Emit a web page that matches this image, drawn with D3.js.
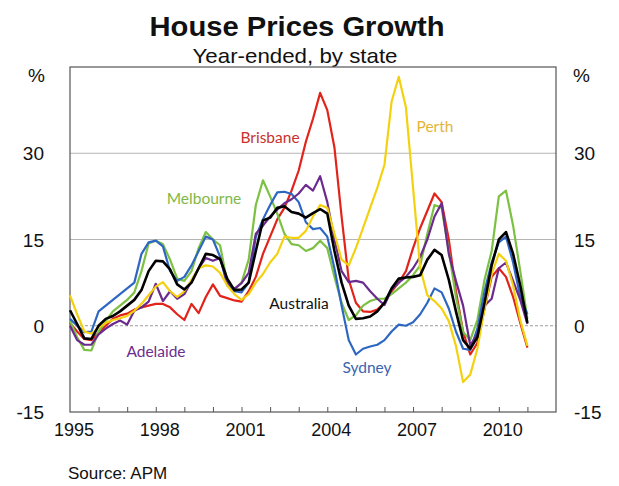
<!DOCTYPE html>
<html>
<head>
<meta charset="utf-8">
<script src="https://cdn.jsdelivr.net/npm/d3@7"></script>
<style>
  html, body { margin: 0; padding: 0; background: #fff; }
  svg { display: block; }
  text { font-family: "Liberation Sans", Arial, sans-serif; }
  .lbl { font-family: Lato, "Open Sans", sans-serif; }
</style>
</head>
<body>
<svg id="chart" width="619" height="486"></svg>
<script>
// ---- Data (quarterly, from March 1995) ----
const title = "House Prices Growth";
const subtitle = "Year-ended, by state";
const source = "Source: APM";
const startYear = 1995;
const perYear = 4;
const yTicks = [-15, 0, 15, 30];
const xTickLabels = [1995, 1998, 2001, 2004, 2007, 2010];
const xMinorTicks = [1996,1997,1998,1999,2000,2001,2002,2003,2004,2005,2006,2007,2008,2009,2010,2011];

const sydney = [1.2,0,-1.1,-1,2.5,3.5,4.5,5.5,6.5,7.5,12.5,14.5,14.8,13.8,9.5,7.8,8.5,10.5,13,15.5,15,12,7,6,5.8,7.5,15.5,18.5,21,23.2,23.3,22.9,21.5,18,16.8,17,15.5,10,3.5,-2.5,-5,-4,-3.6,-3.3,-2.5,-1,0.2,0,0.6,2,4,6.5,5.8,3,-1,-4,-4.2,-0.5,6,11,14.5,15.5,11,5,2];
const melbourne = [0.9,-2,-4.2,-4.3,-1,0.8,2.5,3.5,4.5,5.8,9.5,14.3,14.8,14.2,11.5,8.2,7.8,9.5,13.5,16.3,15,14,7.5,6.3,7.5,11.5,21,25.3,22.5,19.5,16,14.2,14,13,13.5,14.8,13.5,8.5,4,1,1.8,3.5,4.3,4.7,4.7,5.5,6.5,7.5,8.8,10.5,16,21,20.5,13,5,-1.1,-2.5,1,8,13,22.5,23.5,17.4,9.5,1.2];
const brisbane = [0.5,-1,-2.3,-2.5,-1.2,0,1.2,1.8,2.1,2.8,3.2,3.5,3.8,3.8,3.2,2,1,3.8,2.2,5,7.2,5.2,4.8,4.4,4.2,6,8.5,12.5,15.5,18.5,20.5,23.5,27,32,36,40.5,37.5,31,19,8,4,2.5,2.4,2.8,4,6,7.5,9.5,13.5,17,20,23,21.5,15,6,-1,-5,-3,3,8.5,10,8.5,5,0.5,-3.8];
const adelaide = [0,-2.5,-3.3,-3.3,-1.5,-0.5,0.3,0.9,0.2,2.6,3.2,4.2,7.3,4.3,6,4.7,5.5,7.8,10,11.8,11.3,11.8,7.5,6.4,7.4,9.2,16,17.4,19,20.2,21.3,22,23,24.5,23.5,26,21.5,15,9.5,7.6,7.8,7.5,6,4.7,3.6,6.3,7.5,8.5,10,12,15,19,21.3,12.5,7.8,3.5,-3.4,-1.5,3.5,4.7,10,11,7.8,4.5,0.3];
const perth = [5.3,2,-1,-1.4,-0.3,0.5,1,1.3,1.7,2.6,3.8,5.3,6.8,7.6,6,5,6,8,10,10.5,10.3,9.2,7,5.5,4.5,5.5,7.5,9,11,12.5,15.5,15.3,15.3,16.5,19,21,20.5,16,11.5,10.5,13.5,17,20.5,24,28,39,43.3,38,24,10,5.3,4.3,3,0.8,-3.5,-9.8,-8.5,-4,3,9,12.5,11.3,7,1,-3.5];
const australia = [2.7,0.3,-2.2,-2.3,0,1.2,1.7,2.5,3.5,4.5,6.2,9.5,11.3,11.2,9.8,7.2,6.3,7.5,10,12.5,12.3,11.6,8.2,6.2,6.3,7.5,13,18.3,18.8,20.5,20.8,19.8,19.5,18.8,19.6,20.3,19.5,13,7.5,3.5,1.2,1.3,1.6,2.5,4,6.5,8.2,8.4,8.5,8.8,11.5,13.2,12.3,8,2.5,-2.5,-4,-2,4,10.5,15,16.3,12.5,7,0.5];

const seriesNames = ["Brisbane","Melbourne","Sydney","Adelaide","Perth","Australia"];
const seriesValues = [brisbane, melbourne, sydney, adelaide, perth, australia];
const seriesColors = ["#e2231a","#7cc142","#2e67c2","#6a2a8e","#f4d10f","#000000"];
const seriesWidths = [2.2,2.2,2.2,2.2,2.2,2.6];

const labels = [
  {text:"Brisbane", color:"#c8322d"},
  {text:"Melbourne", color:"#7fb847"},
  {text:"Perth", color:"#e2b53a"},
  {text:"Australia", color:"#111111"},
  {text:"Adelaide", color:"#6b2d8e"},
  {text:"Sydney", color:"#3b63ae"}
];
const labelPos = [[270,143],[204,204],[435,132],[299,309],[156,357],[367,373]];

// ---- Layout ----
const svg = d3.select("#chart");
const m = {left:70, right:556, top:67, bottom:412};
const x = d3.scaleLinear().domain([1995, 2012]).range([m.left, m.right]);
const y = d3.scaleLinear().domain([-15, 45]).range([m.bottom, m.top]);

// titles
svg.append("text").attr("x", 297).attr("y", 36).attr("text-anchor","middle")
  .attr("font-size", 28).attr("font-weight","bold").attr("fill","#111")
  .attr("textLength", 295).attr("lengthAdjust","spacingAndGlyphs").text(title);
svg.append("text").attr("x", 295).attr("y", 63).attr("text-anchor","middle")
  .attr("font-size", 21).attr("fill","#111")
  .attr("textLength", 205).attr("lengthAdjust","spacingAndGlyphs").text(subtitle);

// gridlines
const g = svg.append("g");
[15,30].forEach(v => {
  g.append("line").attr("x1", m.left).attr("x2", m.right).attr("y1", y(v)).attr("y2", y(v))
    .attr("stroke","#b5b5b5").attr("stroke-width",1);
});
g.append("line").attr("x1", m.left).attr("x2", m.right).attr("y1", y(0)).attr("y2", y(0))
  .attr("stroke","#9a9a9a").attr("stroke-width",1).attr("stroke-dasharray","3,2");

// frame
svg.append("rect").attr("x", m.left).attr("y", m.top).attr("width", m.right-m.left).attr("height", m.bottom-m.top)
  .attr("fill","none").attr("stroke","#555").attr("stroke-width",1.2);

// bottom ticks (inward)
const xAxis = d3.axisBottom(x).tickValues(xMinorTicks).tickSize(-5).tickFormat("");
const xg = svg.append("g").attr("transform", `translate(0,${m.bottom})`).call(xAxis);
xg.select(".domain").remove();
xg.selectAll(".tick line").attr("stroke","#555");

// x labels
svg.append("g").selectAll("text").data(xTickLabels).join("text")
  .attr("x", d => x(d) + 4).attr("y", 436).attr("text-anchor","middle")
  .attr("font-size", 18).attr("fill","#111").text(d => d);

// y labels
const yl = svg.append("g");
yl.selectAll("text.l").data(yTicks).join("text").attr("class","l")
  .attr("x", 44).attr("y", d => y(d) + 7).attr("text-anchor","end")
  .attr("font-size", 19).attr("fill","#111").text(d => d);
yl.selectAll("text.r").data(yTicks).join("text").attr("class","r")
  .attr("x", 574).attr("y", d => y(d) + 7).attr("text-anchor","start")
  .attr("font-size", 19).attr("fill","#111").text(d => d);
svg.append("text").attr("x", 45).attr("y", 82).attr("text-anchor","end").attr("font-size",19).attr("fill","#111").text("%");
svg.append("text").attr("x", 573).attr("y", 82).attr("text-anchor","start").attr("font-size",19).attr("fill","#111").text("%");

// lines
const line = d3.line().x((d,i) => x(startYear + i/perYear)).y(d => y(d));
svg.append("g").selectAll("path").data(seriesValues).join("path")
  .attr("d", d => line(d)).attr("fill","none")
  .attr("stroke", (d,i) => seriesColors[i]).attr("stroke-width", (d,i) => seriesWidths[i])
  .attr("stroke-linejoin","round");

// series labels
svg.append("g").selectAll("text").data(labels).join("text").attr("class","lbl")
  .attr("x", (d,i) => labelPos[i][0]).attr("y", (d,i) => labelPos[i][1])
  .attr("text-anchor","middle").attr("font-size", 15.5)
  .attr("fill", d => d.color).text(d => d.text);

// source
svg.append("text").attr("x", 68).attr("y", 479).attr("font-size", 17).attr("fill","#111").text(source);
</script>
</body>
</html>
